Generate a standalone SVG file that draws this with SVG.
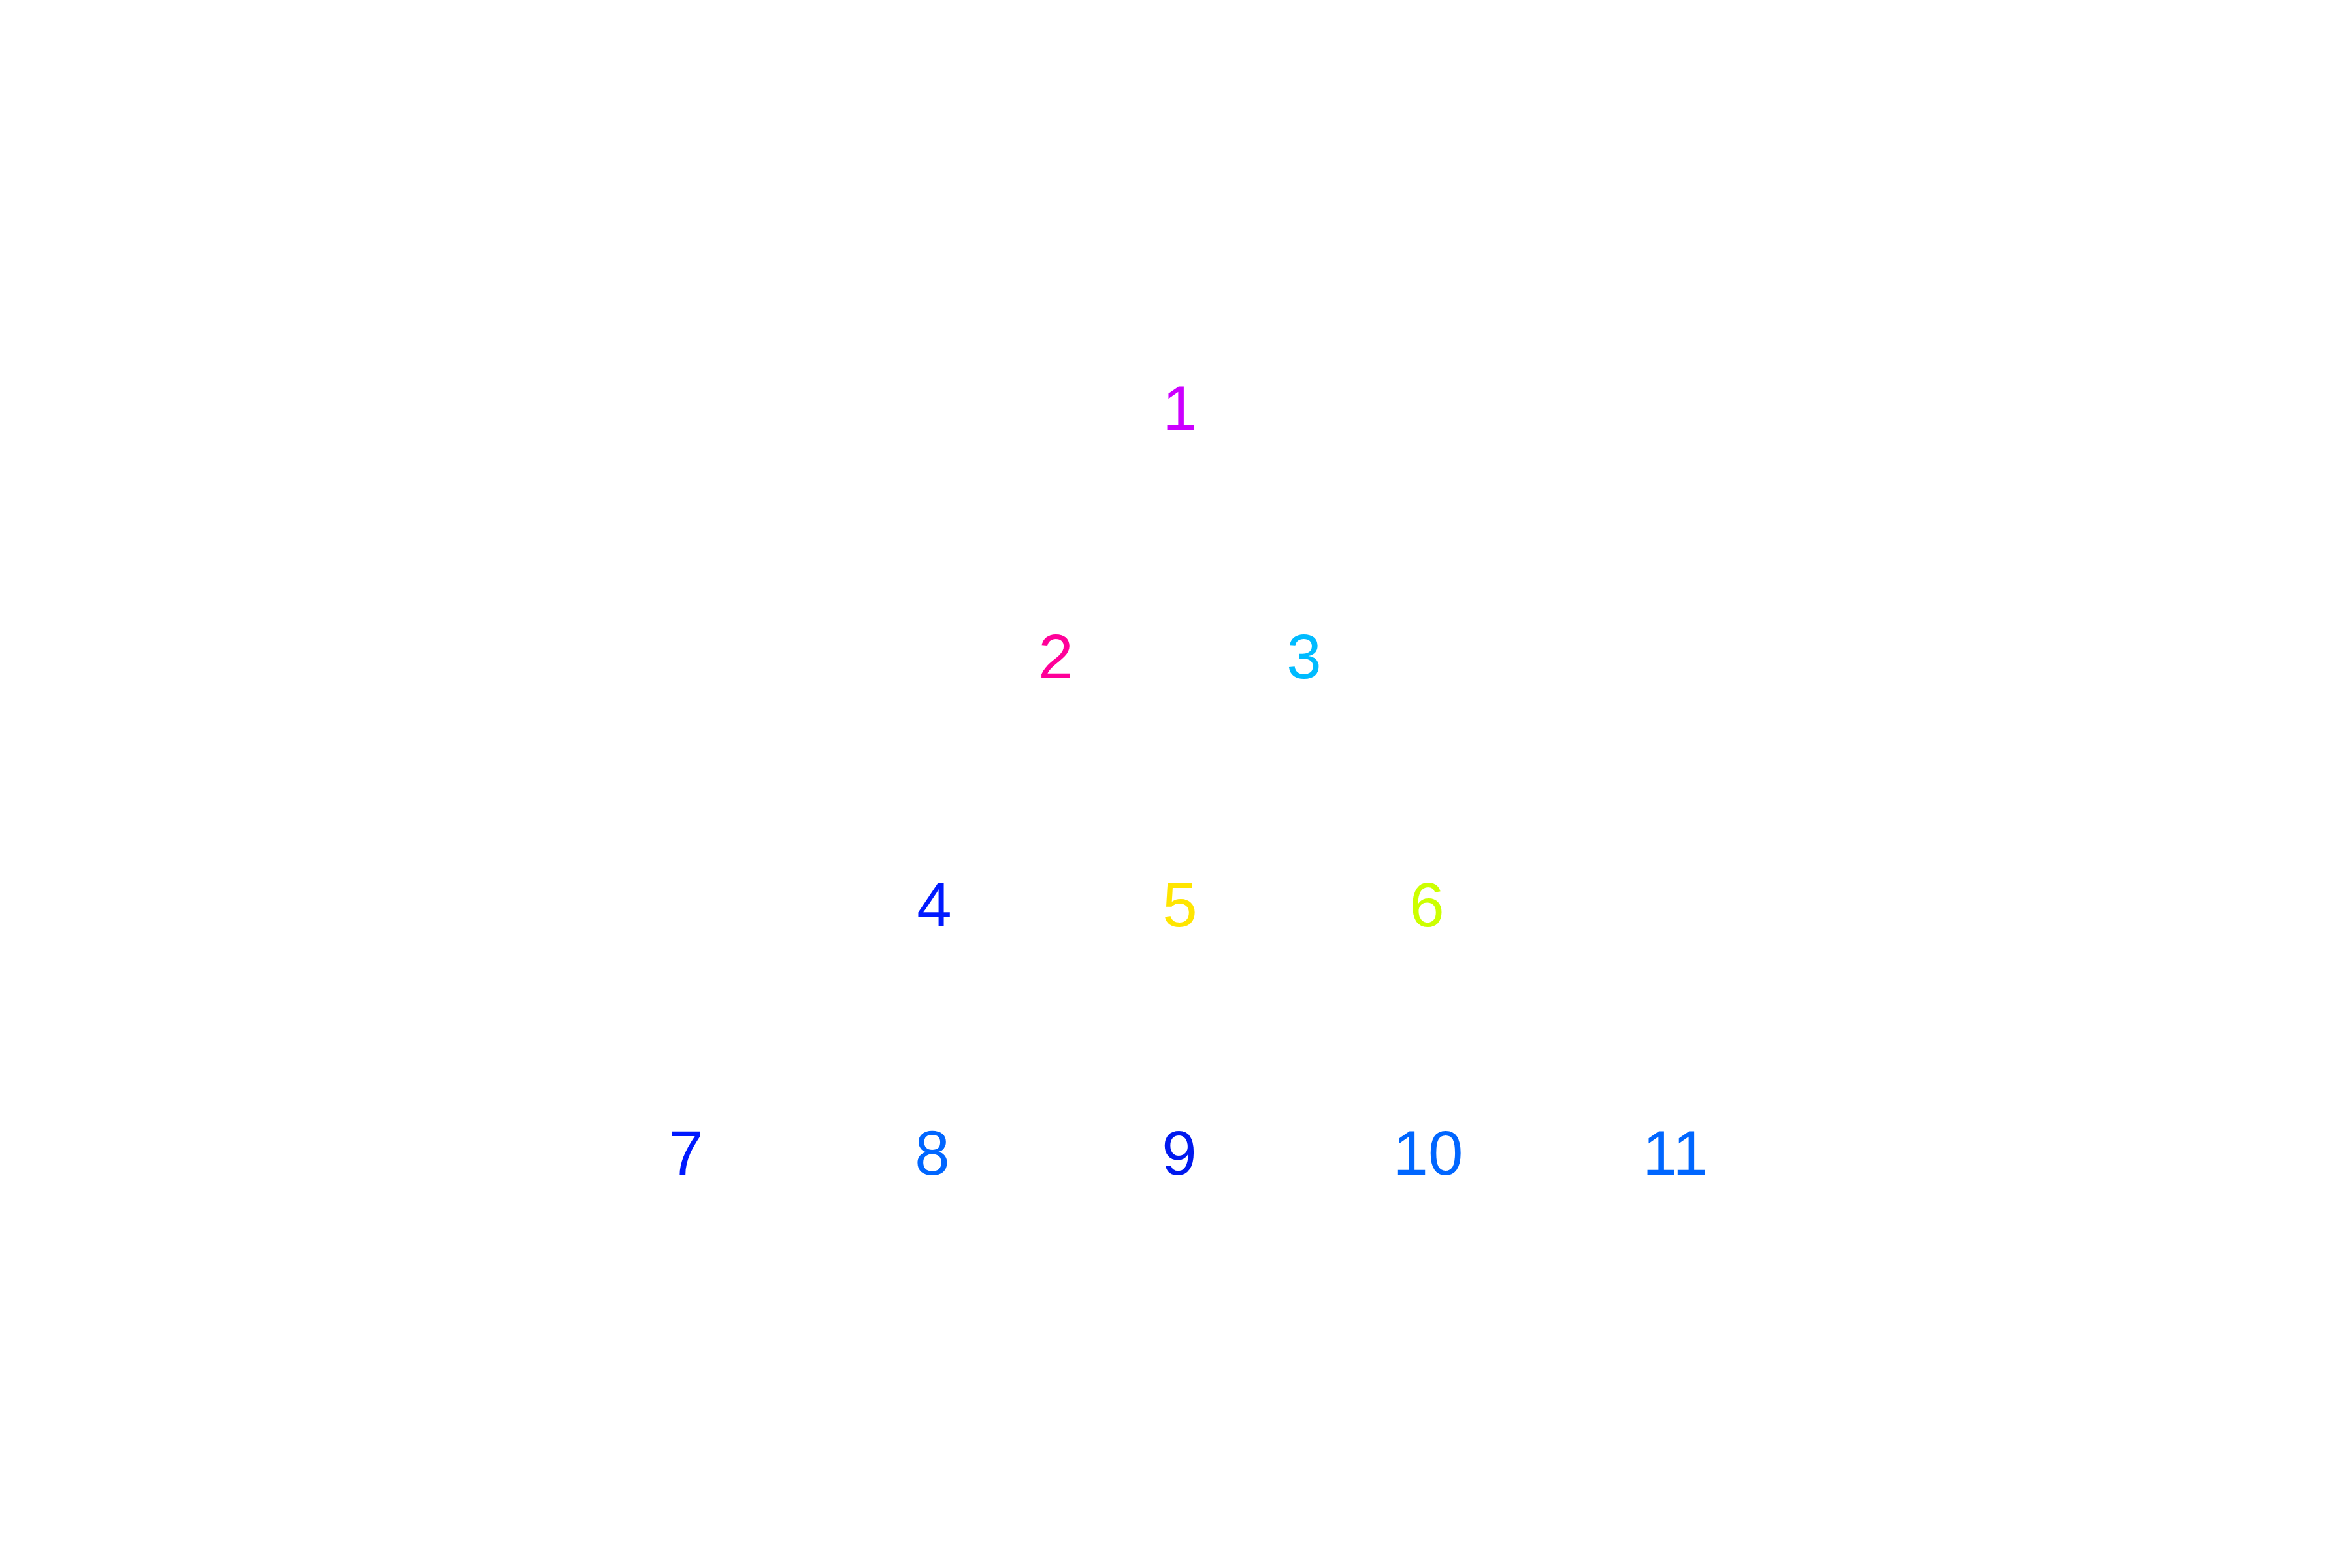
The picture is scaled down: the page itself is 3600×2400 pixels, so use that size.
<svg xmlns="http://www.w3.org/2000/svg" width="3600" height="2400" viewBox="0 0 3600 2400">
<style>
.lbl{font-family:"Liberation Sans",Arial,sans-serif;font-size:96px;text-anchor:middle}
</style>
<rect width="3600" height="2400" fill="#ffffff"/>
<g id="connectors"></g>
<g id="n1"><text class="lbl" x="1806" y="658" fill="#CC00FF">1</text></g>
<g id="n2"><text class="lbl" x="1616" y="1038" fill="#FF0099">2</text></g>
<g id="n3"><text class="lbl" x="1996" y="1038" fill="#00BBFF">3</text></g>
<g id="n4"><text class="lbl" x="1430" y="1418" fill="#0019FF">4</text></g>
<g id="n5"><text class="lbl" x="1806" y="1418" fill="#FFE500">5</text></g>
<g id="n6"><text class="lbl" x="2184" y="1418" fill="#CCFF00">6</text></g>
<g id="n7"><text class="lbl" x="1050" y="1798" fill="#0019FF">7</text></g>
<g id="n8"><text class="lbl" x="1427" y="1798" fill="#0066FF">8</text></g>
<g id="n9"><text class="lbl" x="1805" y="1798" fill="#0019EE">9</text></g>
<g id="n10"><text class="lbl" x="2186" y="1798" fill="#0066FF">10</text></g>
<g id="n11"><text class="lbl" x="2564" y="1798" fill="#0066FF">11</text></g>
</svg>
